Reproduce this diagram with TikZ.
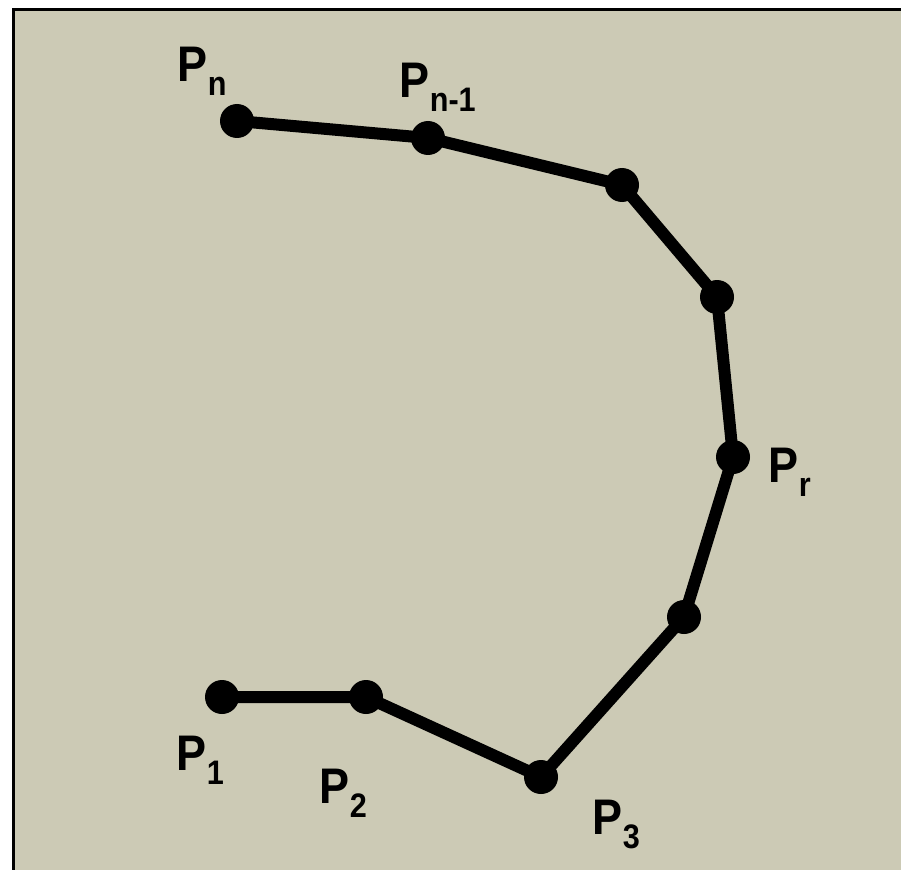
\documentclass[tikz,border=0pt]{standalone}
\usepackage{fontspec}
\setmainfont{Liberation Sans}[FakeStretch=0.9]
\definecolor{bgbeige}{RGB}{204,202,181}
\newcommand{\Plab}[1]{P\raisebox{-14pt}{\fontsize{34}{34}\selectfont #1}}
\begin{document}
\begin{tikzpicture}[x=1pt,y=-1pt,
  dot/.style={circle,fill=black,minimum size=34pt,inner sep=0pt},
  seg/.style={line width=12pt,black},
  lab/.style={anchor=base west,inner sep=0pt,font=\fontsize{50}{50}\selectfont\bfseries}]
\useasboundingbox (0,0) rectangle (901,869);
\clip (0,0) rectangle (901,869);
\fill[white] (0,0) rectangle (901,869);
\draw[line width=3pt,fill=bgbeige] (13.5,9.5) rectangle (960,960);
\node[dot] (p1) at (222,697) {};
\node[dot] (p2) at (366,697) {};
\node[dot] (p3) at (541,777) {};
\node[dot] (p4) at (684,617) {};
\node[dot] (pr) at (733,457) {};
\node[dot] (p6) at (717,297) {};
\node[dot] (p7) at (622,185) {};
\node[dot] (pn1) at (428,138) {};
\node[dot] (pn) at (237,121) {};
\draw[seg] (p1.center) -- (p2.center) -- (p3.center) -- (p4.center) -- (pr.center) -- (p6.center) -- (p7.center) -- (pn1.center) -- (pn.center);
\node[lab] (l1) at (176.6,770) {\Plab{1}};
\node[lab] (l2) at (319.6,803) {\Plab{2}};
\node[lab] (l3) at (592.6,834) {\Plab{3}};
\node[lab] (lr) at (768.6,482) {\Plab{r}};
\node[lab] (ln1) at (399.6,98) {\Plab{n-1}};
\node[lab] (ln) at (177.6,82) {\Plab{n}};
\end{tikzpicture}
\end{document}
